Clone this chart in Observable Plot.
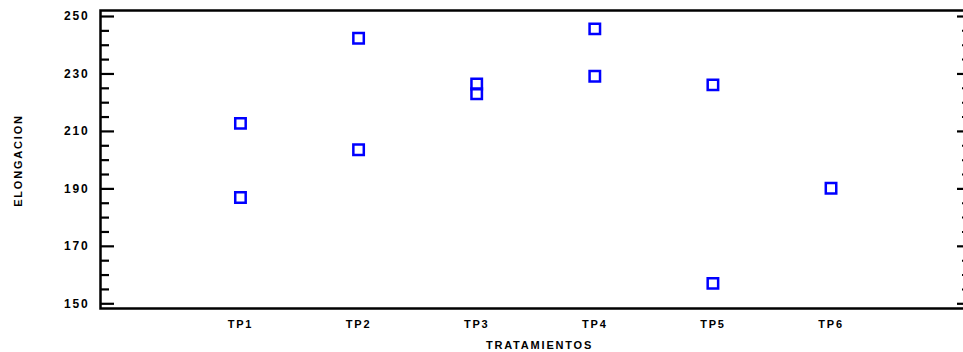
<!DOCTYPE html>
<html>
<head>
<meta charset="utf-8">
<script src="https://cdn.jsdelivr.net/npm/d3@7"></script>
<script src="https://cdn.jsdelivr.net/npm/@observablehq/plot@0.6"></script>
<style>
  html, body { margin: 0; padding: 0; background: #fff; overflow: hidden; width: 963px; height: 352px; }
  #chart svg { display: block; max-width: none !important; }
  #chart svg text { fill: #000; }
</style>
</head>
<body>
<div id="chart"></div>
<script>
// Data
const treatments = ["TP1", "TP2", "TP3", "TP4", "TP5", "TP6"];
const group = ["TP1", "TP1", "TP2", "TP2", "TP3", "TP3", "TP4", "TP4", "TP5", "TP5", "TP6"];
const elongacion = [212.8, 187.0, 242.4, 203.6, 226.5, 223.1, 245.7, 229.2, 226.2, 157.1, 190.2];
const majorTicks = [150, 170, 190, 210, 230, 250];
const minorTicks = [155, 160, 165, 175, 180, 185, 195, 200, 205, 215, 220, 225, 235, 240, 245];
const xTickIndex = [1, 2, 3, 4, 5, 6];
const yTitle = ["ELONGACION"];
const xTitle = ["TRATAMIENTOS"];

const data = group.map((g, i) => ({x: treatments.indexOf(g) + 1, y: elongacion[i]}));
const blank = () => "";

const chart = Plot.plot({
  width: 966,
  height: 352,
  marginLeft: 100,
  marginRight: 0,
  marginTop: 10,
  marginBottom: 44,
  style: {fontFamily: "'Liberation Sans', Arial, sans-serif", fontSize: "11px", fontWeight: "bold", color: "#000", background: "#fff", letterSpacing: "1.8px"},
  x: {type: "linear", domain: [-0.185, 7.147], label: null},
  y: {domain: [148.36, 252.09], label: null},
  marks: [
    Plot.frame({stroke: "#000", strokeWidth: 2.5}),
    // left ticks (inward)
    Plot.axisY({ticks: majorTicks, tickSize: -14, tickFormat: blank, strokeWidth: 2.2, label: null}),
    Plot.axisY({ticks: minorTicks, tickSize: -9, tickFormat: blank, strokeWidth: 2.2, label: null}),
    // left labels
    Plot.axisY({ticks: majorTicks, tickSize: 0, tickPadding: 11, label: null, fontSize: 12}),
    // right ticks (inward)
    Plot.axisY({anchor: "right", ticks: majorTicks, tickSize: -10, tickFormat: blank, strokeWidth: 2.2, label: null}),
    Plot.axisY({anchor: "right", ticks: minorTicks, tickSize: -5, tickFormat: blank, strokeWidth: 2, label: null}),
    // x axis labels
    Plot.axisX({ticks: xTickIndex, tickSize: 0, tickPadding: 12, tickFormat: i => treatments[i - 1], label: null, fontSize: 11}),
    // axis titles
    Plot.text(yTitle, {text: d => d, frameAnchor: "left", textAnchor: "middle", lineAnchor: "middle", rotate: -90, dx: -82, dy: 1, fontSize: 11, fontWeight: "bold", fill: "#000", style: "letter-spacing: 3px"}),
    Plot.text(xTitle, {text: d => d, frameAnchor: "bottom", textAnchor: "middle", lineAnchor: "middle", dx: 6, dy: 36.5, fontSize: 11, fontWeight: "bold", fill: "#000", style: "letter-spacing: 2.2px"}),
    Plot.dot(data, {x: "x", y: "y", symbol: "square", r: 5.9, stroke: "#0000ff", strokeWidth: 2.5, fill: "none"})
  ]
});
document.getElementById("chart").appendChild(chart);
</script>
</body>
</html>
